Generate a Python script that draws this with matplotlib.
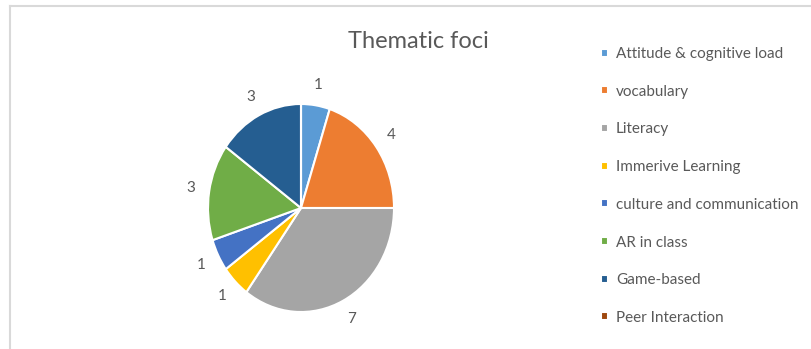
import matplotlib.pyplot as plt
from matplotlib.lines import Line2D

plt.rcParams['font.family'] = ['Lato', 'DejaVu Sans']

# topics and how many studies fall into each
topics = ["Attitude & cognitive load", "vocabulary", "Literacy", "Immerive Learning",
          "culture and communication", "AR in class", "Game-based", "Peer Interaction"]
counts = [1, 4, 7, 1, 1, 3, 3, 0]
colors = ["#5B9BD5", "#ED7D31", "#A5A5A5", "#FFC000",
          "#4472C4", "#70AD47", "#255E91", "#9E480E"]

W, H = 812, 349
fig = plt.figure(figsize=(W / 100, H / 100), dpi=100)

# thin grey frame along the top and left
fig.add_artist(Line2D([10.5 / W, 10.5 / W], [0, 1 - 6 / H], color="#D9D9D9", lw=1.5))
fig.add_artist(Line2D([10.5 / W, 1], [1 - 6 / H, 1 - 6 / H], color="#D9D9D9", lw=1.5))

# pie is a bit taller than wide, so the axes is not square
cx, cy, rx, ry = 301, 208, 93, 104
ax = fig.add_axes([(cx - rx) / W, (H - cy - ry) / H, 2 * rx / W, 2 * ry / H])
wedges, texts, autotexts = ax.pie(
    counts, colors=colors, startangle=90, counterclock=False,
    autopct=lambda p: "" if p == 0 else "%d" % round(p * sum(counts) / 100),
    pctdistance=1.2, radius=1.0,
    wedgeprops=dict(edgecolor="white", linewidth=1.5),
    textprops=dict(color="#595959", fontsize=11))
ax.set_xlim(-1, 1)
ax.set_ylim(-1, 1)
ax.set_aspect("auto")
ax.axis("off")

fig.text(418 / W, 1 - 42 / H, "Thematic foci", ha="center", va="center",
         fontsize=17, color="#595959")

leg = fig.legend(wedges, topics, loc="upper left", bbox_to_anchor=(595 / W, 1 - 41 / H),
                 frameon=False, fontsize=11, handlelength=0.42, handleheight=0.42,
                 handletextpad=0.55, labelspacing=1.55, borderaxespad=0)
for t in leg.get_texts():
    t.set_color("#595959")

fig.savefig("out.png", dpi=100)
